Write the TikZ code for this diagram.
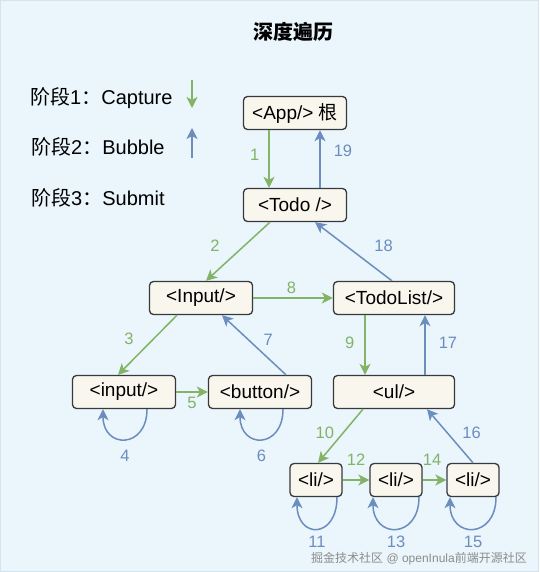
\documentclass[tikz,border=0pt]{standalone}
\usepackage{xcolor}
\usepackage{fontspec}
\setmainfont{Liberation Sans}
\newfontfamily\cjk{Noto Sans CJK SC}
\usepackage{tikz}
\usetikzlibrary{arrows.meta,calc,positioning}

\definecolor{canvasbg}{HTML}{EAF5FC}
\definecolor{canvasline}{HTML}{D3E4EF}
\definecolor{boxfill}{HTML}{F9F7ED}
\definecolor{boxline}{HTML}{36393D}
\definecolor{capturegreen}{HTML}{82B366}
\definecolor{bubbleblue}{HTML}{6C8EBF}

\tikzset{
  comp/.style={
    rectangle,
    rounded corners=4pt,
    draw=boxline,
    fill=boxfill,
    line width=1.3pt,
    minimum width=103pt,
    minimum height=33pt,
    inner sep=0pt,
    align=center,
    font=\fontsize{19}{21}\selectfont
  }
}
\tikzset{
  comp wide/.style={
    comp,
    minimum width=121pt
  }
}
\tikzset{
  comp small/.style={
    comp,
    minimum width=52pt
  }
}
\tikzset{
  capture/.style={
    -{Stealth[length=11pt,width=11pt,inset=3pt]},
    draw=capturegreen,
    line width=1.5pt
  }
}
\tikzset{
  bubble/.style={
    capture,
    draw=bubbleblue
  }
}
\tikzset{
  capture label/.style={
    inner sep=1pt,
    text=capturegreen,
    font=\fontsize{16.5}{18}\selectfont
  }
}
\tikzset{
  bubble label/.style={
    capture label,
    text=bubbleblue
  }
}
\tikzset{
  legend/.style={
    anchor=west,
    inner sep=0pt,
    font=\fontsize{20}{22}\selectfont
  }
}

\begin{document}
\begin{tikzpicture}[x=1pt,y=-1pt]

    % ------------------------------------------------------------
    % Canvas
    % ------------------------------------------------------------

    \fill[canvasbg] (0,0) rectangle (539,572);
    \draw[canvasline] (0.5,0.5) rectangle (538.5,571.5);
    \useasboundingbox (0,0) rectangle (539,572);

    \node[font=\fontsize{20}{22}\cjk\bfseries] (title) at (293,32) {深度遍历};

    % ------------------------------------------------------------
    % Legend
    % ------------------------------------------------------------

    \node[legend] (phase1) at (30,98) {{\cjk 阶段}1{\cjk ：}Capture};
    \node[legend] (phase2) at (31,147) {{\cjk 阶段}2{\cjk ：}Bubble};
    \node[legend] (phase3) at (31,198) {{\cjk 阶段}3{\cjk ：}Submit};

    \coordinate (cap from) at (192,80);
    \coordinate (cap to) at (192,108);
    \coordinate (bub from) at (192,158);
    \coordinate (bub to) at (192,128);

    \draw[capture] (cap from) -- (cap to);
    \draw[bubble] (bub from) -- (bub to);

    % ------------------------------------------------------------
    % Nodes
    % ------------------------------------------------------------

    \node[comp] (app) at (295,113) {<App/> {\cjk 根}};
    \node[comp] (todo) at (295,205) {<Todo />};
    \node[comp] (Input) at (201,298) {<Input/>};
    \node[comp wide] (todolist) at (394,298) {<TodoList/>};
    \node[comp] (input) at (124,392) {<input/>};
    \node[comp] (button) at (260,392) {<button/>};
    \node[comp wide] (ul) at (394,392) {<ul/>};
    \node[comp small] (li1) at (316,480) {<li/>};
    \node[comp small] (li2) at (396,480) {<li/>};
    \node[comp small] (li3) at (473,480) {<li/>};

    % ------------------------------------------------------------
    % Edges
    % ------------------------------------------------------------

    \draw[capture]
      ([xshift=-26pt]app.south)
      --
      node[capture label,pos=0.42,left=8pt] (e1) {1}
      ([xshift=-26pt]todo.north);

    \draw[capture]
      ([xshift=-25pt]todo.south)
      --
      node[capture label,pos=0.4,left=23pt] (e2) {2}
      ([xshift=5pt]Input.north);

    \draw[capture]
      ([xshift=-24pt]Input.south)
      --
      node[capture label,pos=0.4,left=18pt] (e3) {3}
      ([xshift=-6pt]input.north);

    \draw[bubble]
      ([xshift=23pt]input.south)
      .. controls +(0,40) and +(0,40) ..
      ([xshift=-21pt]input.south)
      node[bubble label,pos=0.5,below=9pt] (e4) {4};

    \draw[capture]
      (input.east)
      --
      node[capture label,pos=0.5,below=3pt] (e5) {5}
      (button.west);

    \draw[bubble]
      ([xshift=23pt]button.south)
      .. controls +(0,40) and +(0,40) ..
      ([xshift=-20pt]button.south)
      node[bubble label,pos=0.5,below=9pt] (e6) {6};

    \draw[bubble]
      ([xshift=26pt]button.north)
      --
      node[bubble label,pos=0.58,right=13pt] (e7) {7}
      ([xshift=21pt]Input.south);

    \draw[capture]
      (Input.east)
      --
      node[capture label,pos=0.48,above=3pt] (e8) {8}
      (todolist.west);

    \draw[capture]
      ([xshift=-29pt]todolist.south)
      --
      node[capture label,pos=0.47,left=9pt] (e9) {9}
      ([xshift=-29pt]ul.north);

    \draw[capture]
      ([xshift=-31pt]ul.south)
      --
      node[capture label,pos=0.45,left=7pt] (e10) {10}
      ([xshift=2pt]li1.north);

    \draw[bubble]
      ([xshift=21pt]li1.south)
      .. controls +(0,42) and +(0,42) ..
      ([xshift=-19pt]li1.south)
      node[bubble label,pos=0.5,below=6pt] (e11) {11};

    \draw[capture]
      (li1.east)
      --
      node[capture label,pos=0.5,above=13pt] (e12) {12}
      (li2.west);

    \draw[bubble]
      ([xshift=23pt]li2.south)
      .. controls +(0,42) and +(0,42) ..
      ([xshift=-23pt]li2.south)
      node[bubble label,pos=0.5,below=6pt] (e13) {13};

    \draw[capture]
      (li2.east)
      --
      node[capture label,pos=0.4,above=13pt] (e14) {14}
      (li3.west);

    \draw[bubble]
      ([xshift=23pt]li3.south)
      .. controls +(0,42) and +(0,42) ..
      ([xshift=-23pt]li3.south)
      node[bubble label,pos=0.5,below=6pt] (e15) {15};

    \draw[bubble]
      (li3.north)
      --
      node[bubble label,pos=0.55,right=13pt] (e16) {16}
      ([xshift=33pt]ul.south);

    \draw[bubble]
      ([xshift=31pt]ul.north)
      --
      node[bubble label,pos=0.53,right=12pt] (e17) {17}
      ([xshift=31pt]todolist.south);

    \draw[bubble]
      ([xshift=-2pt]todolist.north)
      --
      node[bubble label,pos=0.59,right=26pt] (e18) {18}
      ([xshift=20pt]todo.south);

    \draw[bubble]
      ([xshift=25pt]todo.north)
      --
      node[bubble label,pos=0.64,right=12pt] (e19) {19}
      ([xshift=25pt]app.south);

    \node[text=black!45,font=\fontsize{12}{14}\selectfont] (mark) at (419,559)
    {{\cjk 掘金技术社区} @ openInula{\cjk 前端开源社区}};

\end{tikzpicture}
\end{document}
